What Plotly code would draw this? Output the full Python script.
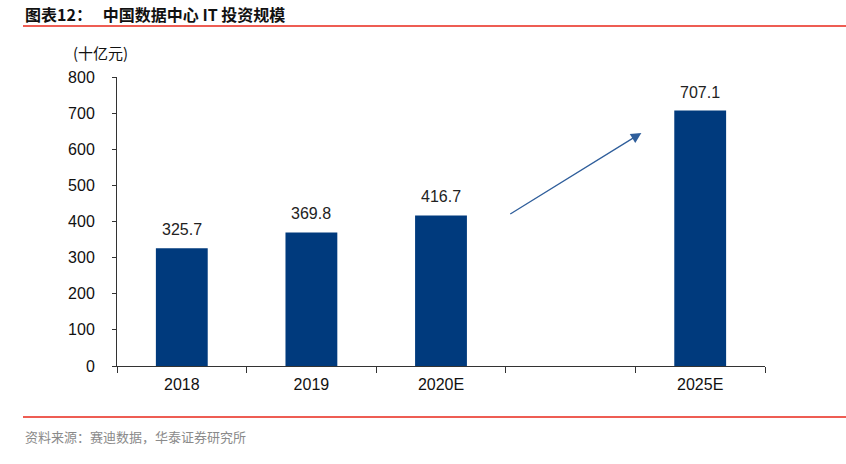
import plotly.graph_objects as go

categories = ["2018", "2019", "2020E", " ", "2025E"]
values = [325.7, 369.8, 416.7, None, 707.1]
labels = ["325.7", "369.8", "416.7", "", "707.1"]
y_ticks = [0, 100, 200, 300, 400, 500, 600, 700, 800]

bar_color = "#003A7D"

fig = go.Figure()
fig.add_trace(go.Bar(
    x=categories, y=values, width=0.4,
    marker=dict(color=bar_color, line=dict(width=0)),
))

for i, (v, t) in enumerate(zip(values, labels)):
    if v is None:
        continue
    fig.add_annotation(
        x=i, y=v, xref="x", yref="y", text=t, showarrow=False,
        yanchor="bottom", yshift=8,
        font=dict(family="Arial, Liberation Sans", size=16, color="#222222"),
    )

fig.update_layout(
    width=846, height=464,
    margin=dict(l=117, r=81, t=77, b=98),
    paper_bgcolor="white", plot_bgcolor="white",
    showlegend=False,
    font=dict(family="Arial, Liberation Sans", color="#111111"),
)
fig.update_xaxes(
    type="category", tickson="boundaries",
    showline=True, linecolor="#333333", linewidth=1,
    ticks="outside", ticklen=6, tickcolor="#333333",
    ticklabelstandoff=4,
    tickfont=dict(size=16, family="Arial, Liberation Sans", color="#111111"),
    showgrid=False, range=[-0.5, 4.5],
)
fig.update_yaxes(
    range=[0, 800], tickvals=y_ticks,
    showline=True, linecolor="#333333", linewidth=1,
    ticks="outside", ticklen=4, tickcolor="#333333",
    ticklabelstandoff=14,
    tickfont=dict(size=16, family="Arial, Liberation Sans", color="#111111"),
    showgrid=False, zeroline=False,
)

# arrow
fig.add_annotation(
    x=3.546, y=645, ax=2.523, ay=418,
    xref="x", yref="y", axref="x", ayref="y",
    showarrow=True, arrowhead=2, arrowsize=1.6, arrowwidth=1.3,
    arrowcolor="#2F5E9B", text="",
)

# title
fig.add_annotation(
    xref="paper", yref="paper", x=(23 - 117) / 648, y=1 + (77 - 14) / 289,
    xanchor="left", yanchor="middle", showarrow=False,
    text="<b>图表12：   中国数据中心 IT 投资规模</b>",
    font=dict(family="Noto Sans CJK SC", size=16, color="#111111"),
)
fig.add_annotation(
    xref="paper", yref="paper", x=(71 - 117) / 648, y=1 + (77 - 52) / 289,
    xanchor="left", yanchor="middle", showarrow=False,
    text="(十亿元)",
    font=dict(family="Noto Sans CJK SC", size=15, color="#111111"),
)
fig.add_annotation(
    xref="paper", yref="paper", x=(23 - 117) / 648, y=-(436 - 366) / 289,
    xanchor="left", yanchor="middle", showarrow=False,
    text="资料来源：赛迪数据，华泰证券研究所",
    font=dict(family="Noto Sans CJK SC", size=13, color="#8A8A8A"),
)

# red rules
fig.add_shape(type="line", xref="paper", yref="paper",
              x0=(23 - 117) / 648, x1=(846 - 117) / 648,
              y0=1 + (77 - 26) / 289, y1=1 + (77 - 26) / 289,
              line=dict(color="#E8271A", width=1.5))
fig.add_shape(type="line", xref="paper", yref="paper",
              x0=(23 - 117) / 648, x1=(846 - 117) / 648,
              y0=-(417 - 366) / 289, y1=-(417 - 366) / 289,
              line=dict(color="#E8271A", width=1.5))

fig.write_html("out.html")
